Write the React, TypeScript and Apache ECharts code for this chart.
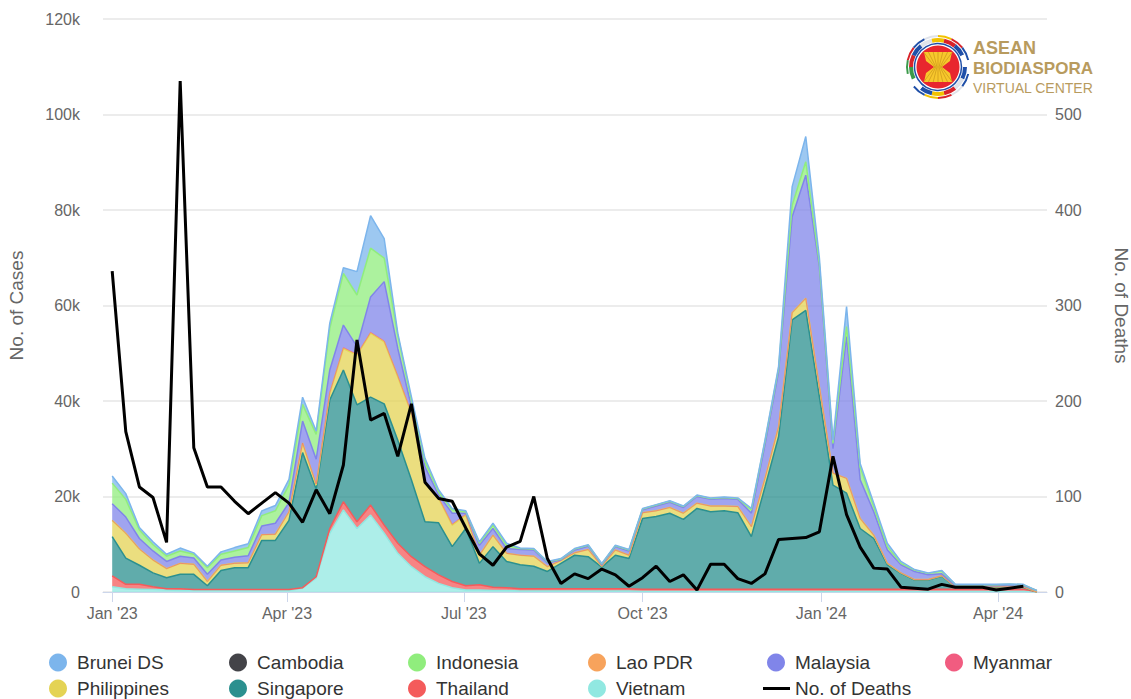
import React, { useEffect, useRef } from "react";
import * as echarts from "echarts";

const weeks = [
  "2023-01-01","2023-01-08","2023-01-15","2023-01-22","2023-01-29","2023-02-05","2023-02-12","2023-02-19","2023-02-26","2023-03-05",
  "2023-03-12","2023-03-19","2023-03-26","2023-04-02","2023-04-09","2023-04-16","2023-04-23","2023-04-30","2023-05-07","2023-05-14",
  "2023-05-21","2023-05-28","2023-06-04","2023-06-11","2023-06-18","2023-06-25","2023-07-02","2023-07-09","2023-07-16","2023-07-23",
  "2023-07-30","2023-08-06","2023-08-13","2023-08-20","2023-08-27","2023-09-03","2023-09-10","2023-09-17","2023-09-24","2023-10-01",
  "2023-10-08","2023-10-15","2023-10-22","2023-10-29","2023-11-05","2023-11-12","2023-11-19","2023-11-26","2023-12-03","2023-12-10",
  "2023-12-17","2023-12-24","2023-12-31","2024-01-07","2024-01-14","2024-01-21","2024-01-28","2024-02-04","2024-02-11","2024-02-18",
  "2024-02-25","2024-03-03","2024-03-10","2024-03-17","2024-03-24","2024-03-31","2024-04-07","2024-04-14","2024-04-21",
];

// weekly cases, in thousands
const brunei = [
  1.5,1.2,.5,.6,.4,.6,.3,.3,.5,.7,
  .8,1,1.1,1.2,1.5,.7,1.1,1.2,4.9,6.8,
  4.1,.4,.7,.7,.4,.3,.2,.3,.4,.4,
  .1,.1,.1,.1,.1,.1,.1,.1,.1,.1,
  .1,.1,.1,.1,.1,.1,.1,.3,.3,.4,
  3.9,5.3,1.2,.7,4.2,.7,.7,.7,.4,.1,
  .1,.1,.1,.1,.1,.1,.1,.1,0,
];
const cambodia = [
  0,0,0,0,0,0,0,0,0,0, 0,0,0,0,0,0,0,0,0,0, 0,0,0,0,0,0,0,0,0,0,
  0,0,0,0,0,0,0,0,0,0, 0,0,0,0,0,0,0,0,0,0, 0,0,0,0,0,0,0,0,0,0,
  0,0,0,0,0,0,0,0,0,
];
const indonesia = [
  4.3,3.7,1.8,1.3,1.1,1.1,.8,1.4,1.2,1.3,
  1.7,2.2,2.6,3.7,3.5,5.2,8.7,10.8,10.8,10.2,
  4.9,2.8,1.4,1.1,.7,.7,.3,.4,.7,.7,
  .2,.2,.2,.2,.2,.2,.2,.2,.2,.2,
  .2,.2,.2,.2,.2,.2,.2,.7,.7,.7,
  2.4,2.8,.7,1.1,2.1,2.7,1.1,.7,.3,.3,
  .3,.6,.2,.2,.2,.2,.2,.2,0,
];
const lao = [
  0,0,0,0,0,0,0,0,0,0, 0,0,0,0,0,0,0,0,0,0, 0,0,0,0,0,0,0,0,0,0,
  0,0,0,0,0,0,0,0,0,0, 0,0,0,0,0,0,0,0,0,0, 0,0,0,0,0,0,0,0,0,0,
  0,0,0,0,0,0,0,0,0,
];
const malaysia = [
  3.5,3.4,2.2,1.9,1.5,1.5,1.3,1.5,1.1,1.3,
  1.5,1.8,2.3,1.9,4.6,5.2,4.7,4.7,1.6,7.4,
  12.4,5.7,1.2,3.2,.5,2.3,.2,2.1,1.4,1,
  1.2,1.3,.8,.1,.6,.7,.3,.7,.9,.6,
  1,1.1,1.2,1.4,1.4,1.6,1.5,2.8,7,11.5,
  20.1,25.8,25.1,5.1,29.7,8.1,4.9,2.8,1.7,1.7,
  1,.4,.2,.2,.2,.2,.3,.2,.3,
];
const myanmar = [
  0,0,0,0,0,0,0,0,0,0, 0,0,0,0,0,.2,.2,.2,.2,.2, .2,.2,.2,.2,.2,.2,.2,0,0,0,
  0,0,0,0,0,0,0,0,0,0, 0,0,0,0,0,0,0,0,0,0, 0,0,0,0,0,0,0,0,0,0,
  0,0,0,0,0,0,0,0,0,
];
const philippines = [
  3.4,5.2,3.4,2.7,1.9,2.3,2.1,.9,1.1,.9,
  1,1.2,1.3,1.8,2,.9,1.4,4.5,10.4,13.4,
  13,13.3,13.9,8.1,5.1,4.5,2.8,1.7,2.4,1.7,
  2,2.1,1,.6,.5,1.5,.2,1.1,.7,1.2,
  1.2,1.2,1.3,1.1,1.2,1,1.3,2.1,1.8,2.1,
  1.5,2.5,2.1,2.5,3.1,2.1,.7,.3,.1,.1,
  .1,.1,.1,.1,.1,.1,.1,.1,0,
];
const singapore = [
  8.2,5.5,4,2.9,2.3,3,3.2,.8,4,4.6,
  4.6,10.3,10.3,14.5,28.3,18.3,26.9,27.6,24.5,22.6,
  25.4,21.6,16.1,9.4,10.9,7.3,12,4.5,8.5,5.5,
  5,4.7,3.6,5.3,7,6.7,4.5,7,6.3,14.8,
  15.2,15.9,14.6,16.9,16.2,16.4,16,11,21.4,31.9,
  56.4,58.4,40.3,21.8,20.1,12.7,10.6,5.1,3.3,1.9,
  1.9,2.7,.4,.4,.4,.4,.4,.4,0,
];
const thailand = [
  2.3,.9,1,.6,.3,.4,.2,.2,.2,.2,
  .2,.2,.2,.2,.1,.3,1,1.7,1.4,2.1,
  1.7,2.1,2.1,2.1,1.8,1.3,.9,1.1,.7,.6,
  .5,.5,.5,.5,.5,.5,.5,.5,.5,.5,
  .5,.5,.5,.5,.5,.5,.5,.5,.5,.5,
  .5,.5,.5,.5,.5,.5,.5,.5,.5,.5,
  .5,.5,.5,.5,.5,.5,.5,.5,0,
];
const vietnam = [
  1.1,.7,.6,.5,.4,.3,.3,.3,.3,.3,
  .3,.3,.3,.3,.8,2.9,12.3,17.2,13.3,16.1,
  12.3,8.1,5.3,3.2,1.8,.9,.4,.4,.3,.3,
  .2,.2,.2,.2,.2,.2,.2,.2,.2,.1,
  .1,.1,.1,.1,.1,.1,.1,.1,.1,.1,
  .1,.1,.1,.1,.1,.1,.1,.1,.1,.1,
  .1,.1,.1,.1,.1,.1,.1,.1,0,
];
const deaths = [
  336,168,110,99,52,535,151,110,110,95,
  82,93,104,93,73,107,82,133,264,180,
  187,142,197,115,98,95,67,40,28,47,
  53,100,35,9,19,14,24,18,6,15,
  27,11,18,2,29,29,14,9,19,55,
  56,57,63,142,81,47,25,24,5,4,
  3,8,5,5,5,2,4,6,
];

const tickDates = ["2023-01-01", "2023-04-01", "2023-07-01", "2023-10-01", "2024-01-01", "2024-04-01"];
const tickLabels = ["Jan '23", "Apr '23", "Jul '23", "Oct '23", "Jan '24", "Apr '24"];

const FONT = "'Liberation Sans', Arial, sans-serif";
const GOLD = "#b89b5e";
const ms = (s: string) => Date.parse(s);

const stackOrder: [string, number[], string, number][] = [
  ["Vietnam", vietnam, "#91e8e1", 1.5],
  ["Thailand", thailand, "#f45b5b", 1.5],
  ["Singapore", singapore, "#2b908f", 1.5],
  ["Philippines", philippines, "#e4d354", 1.5],
  ["Myanmar", myanmar, "#f15c80", 0.6],
  ["Malaysia", malaysia, "#8085e9", 1.5],
  ["Lao PDR", lao, "#f7a35c", 0],
  ["Indonesia", indonesia, "#90ed7d", 1.5],
  ["Cambodia", cambodia, "#434348", 0],
  ["Brunei DS", brunei, "#7cb5ec", 1.5],
];

const legendCols = [49, 229, 408, 588, 767, 945];
const legendRows = [653, 679];
const legendLayout: [string, number, number][] = [
  ["Brunei DS", 0, 0], ["Cambodia", 1, 0], ["Indonesia", 2, 0], ["Lao PDR", 3, 0], ["Malaysia", 4, 0], ["Myanmar", 5, 0],
  ["Philippines", 0, 1], ["Singapore", 1, 1], ["Thailand", 2, 1], ["Vietnam", 3, 1],
];

function logo(): any[] {
  const cx = 938, cy = 67;
  const ringColors = ["#1f4fa8", "#dfe3ea", "#d8232a", "#f2c200", "#1f4fa8", "#ffffff", "#3a9a4a", "#d8232a", "#1f4fa8", "#dfe3ea", "#f2c200", "#d8232a", "#1f4fa8", "#ffffff"];
  const seg = (2 * Math.PI) / ringColors.length;
  const arcs = ringColors.map((c, i) => ({
    type: "arc", silent: true,
    shape: { cx, cy, r: 27, startAngle: i * seg, endAngle: (i + 1) * seg },
    style: { stroke: c, lineWidth: 4, fill: "none" },
  }));
  const outer = ringColors.map((c, i) => ({
    type: "arc", silent: true,
    shape: { cx, cy, r: 31, startAngle: (i + 0.5) * seg, endAngle: (i + 1.5) * seg },
    style: { stroke: c, lineWidth: 2, fill: "none" },
  }));
  const stripes = [-9, -6, -3, 0, 3, 6, 9].map((dx) => ({
    type: "line", silent: true,
    shape: { x1: cx + dx * 1.6, y1: cy - 15, x2: cx + dx * 0.35, y2: cy },
    style: { stroke: "#c9961a", lineWidth: 0.7 },
  }));
  const stripes2 = [-9, -6, -3, 0, 3, 6, 9].map((dx) => ({
    type: "line", silent: true,
    shape: { x1: cx + dx * 0.35, y1: cy, x2: cx + dx * 1.6, y2: cy + 15 },
    style: { stroke: "#c9961a", lineWidth: 0.7 },
  }));
  return [
    { type: "circle", silent: true, shape: { cx, cy, r: 32 }, style: { fill: "#ffffff" } },
    ...arcs, ...outer,
    { type: "circle", silent: true, shape: { cx, cy, r: 23.5 }, style: { fill: "#ffffff", stroke: "#1f4fa8", lineWidth: 1.5 } },
    { type: "circle", silent: true, shape: { cx, cy, r: 21.5 }, style: { fill: "#e8262e" } },
    {
      type: "polygon", silent: true,
      shape: { points: [[cx - 14, cy - 15], [cx + 14, cy - 15], [cx + 12, cy - 6], [cx + 4, cy], [cx + 12, cy + 6], [cx + 14, cy + 15], [cx - 14, cy + 15], [cx - 12, cy + 6], [cx - 4, cy], [cx - 12, cy - 6]] },
      style: { fill: "#f7c72c" },
    },
    ...stripes, ...stripes2,
    { type: "text", silent: true, x: 973, y: 39, style: { text: "ASEAN", fill: GOLD, font: "bold 18px " + FONT } },
    { type: "text", silent: true, x: 973, y: 60, style: { text: "BIODIASPORA", fill: GOLD, font: "bold 17px " + FONT } },
    { type: "text", silent: true, x: 973, y: 81, style: { text: "VIRTUAL CENTER", fill: GOLD, font: "14px " + FONT } },
  ];
}

export default function App() {
  const ref = useRef<HTMLDivElement>(null);
  useEffect(() => {
    const chart = echarts.init(ref.current!, undefined, { renderer: "svg" });
    const areaSeries = stackOrder.map(([name, values, color, width]) => ({
      name, type: "line", stack: "cases", yAxisIndex: 0,
      showSymbol: false, symbol: "none", smooth: false,
      lineStyle: { color, width },
      itemStyle: { color },
      areaStyle: { color, opacity: 0.75 },
      data: values.map((v, i) => [ms(weeks[i]), v * 1000]),
    }));
    const textStyle = { color: "#333", fontFamily: FONT, fontSize: 19, fontWeight: 500 };
    const legends: any[] = legendLayout.map(([name, c, r]) => ({
      show: true, left: legendCols[c], top: legendRows[r], padding: 0,
      itemWidth: 28, itemHeight: 18, icon: "circle", data: [name], textStyle,
      selectedMode: false,
    }));
    legends.push({
      show: true, left: 763, top: legendRows[1], padding: 0, itemWidth: 27, itemHeight: 3,
      icon: "rect", data: ["No. of Deaths"], textStyle, selectedMode: false,
    });
    const tickValues = tickDates.map(ms);
    chart.setOption({
      animation: false,
      useUTC: true,
      backgroundColor: "#ffffff",
      grid: { left: 103, right: 84, top: 19, height: 573, containLabel: false, outerBoundsMode: "none" },
      legend: legends,
      xAxis: {
        type: "time",
        min: Date.UTC(2022, 11, 27, 6, 30),
        max: Date.UTC(2024, 3, 26, 4),
        splitNumber: 16,
        axisLine: { lineStyle: { color: "#ccd6eb", width: 1 } },
        axisTick: { length: 10, lineStyle: { color: "#ccd6eb", width: 1 }, customValues: tickValues },
        axisLabel: {
          color: "#666", fontFamily: FONT, fontSize: 16, margin: 13,
          formatter: (v: number) => tickLabels[tickValues.indexOf(v)] ?? "",
          hideOverlap: false, showMinLabel: false, showMaxLabel: false,
        },
        splitLine: { show: false },
      },
      yAxis: [
        {
          type: "value", min: 0, max: 120000, interval: 20000,
          name: "No. of Cases", nameLocation: "middle", nameGap: 77, nameRotate: 90,
          nameTextStyle: { color: "#666", fontFamily: FONT, fontSize: 19 },
          axisLine: { show: false }, axisTick: { show: false },
          axisLabel: { color: "#666", fontFamily: FONT, fontSize: 16, margin: 23, formatter: (v: number) => (v === 0 ? "0" : v / 1000 + "k") },
          splitLine: { lineStyle: { color: "#e6e6e6", width: 1.5 } },
        },
        {
          type: "value", min: 0, max: 600, interval: 100, position: "right",
          name: "No. of Deaths", nameLocation: "middle", nameGap: 65, nameRotate: -90,
          nameTextStyle: { color: "#666", fontFamily: FONT, fontSize: 19 },
          axisLine: { show: false }, axisTick: { show: false },
          axisLabel: { color: "#666", fontFamily: FONT, fontSize: 16, margin: 8, formatter: (v: number) => (v === 600 ? "" : String(v)) },
          splitLine: { show: false },
        },
      ],
      series: [
        ...areaSeries,
        {
          name: "No. of Deaths", type: "line", yAxisIndex: 1, z: 5,
          showSymbol: false, symbol: "none",
          lineStyle: { color: "#000000", width: 3 }, itemStyle: { color: "#000000" },
          data: deaths.map((v, i) => [ms(weeks[i]), v]),
        },
      ],
      graphic: { elements: logo() },
    });
    return () => chart.dispose();
  }, []);
  return <div ref={ref} style={{ position: "absolute", left: 0, top: 0, width: 1131, height: 699 }} />;
}
